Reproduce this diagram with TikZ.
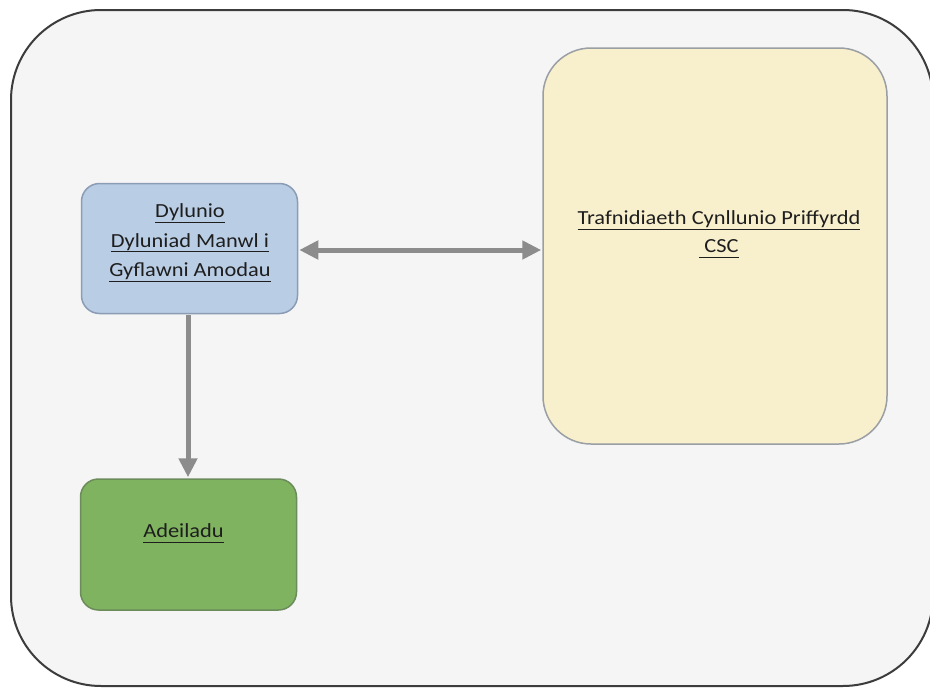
\documentclass[tikz,border=0pt]{standalone}
\usepackage{fontspec}
\setmainfont{Carlito}
\newfontfamily\boxfont[FakeStretch=1.12]{Carlito}
\usetikzlibrary{arrows.meta}

\definecolor{pagebg}{HTML}{FFFFFF}
\definecolor{framefill}{HTML}{F5F5F5}
\definecolor{frameline}{HTML}{3C3C3C}
\definecolor{bluefill}{HTML}{B9CDE5}
\definecolor{blueline}{HTML}{8A9DB5}
\definecolor{yellowfill}{HTML}{F8EFCD}
\definecolor{yellowline}{HTML}{9A9FA5}
\definecolor{greenfill}{HTML}{7FB35F}
\definecolor{greenline}{HTML}{6C8C5C}
\definecolor{arrowgray}{HTML}{8C8C8C}
\definecolor{inkdark}{HTML}{1E1E1E}

% underline at a fixed depth below the baseline
\newsavebox\ulinebox
\newcommand\lineunder[1]{\sbox\ulinebox{#1}\rlap{\rule[-5pt]{\wd\ulinebox}{1.2pt}}\usebox\ulinebox}

\tikzset{
  outerframe/.style={draw=frameline, line width=2pt, fill=framefill, rounded corners=90pt},
  stagebox/.style={draw, line width=1.5pt, inner sep=0pt},
  designbox/.style={stagebox, fill=bluefill, draw=blueline, rounded corners=18pt,
    minimum width=216pt, minimum height=130pt},
  buildbox/.style={stagebox, fill=greenfill, draw=greenline, rounded corners=18pt,
    minimum width=216pt, minimum height=131pt},
  planbox/.style={stagebox, fill=yellowfill, draw=yellowline, rounded corners=48pt,
    minimum width=344pt, minimum height=396pt},
  boxtext/.style={align=center, text=inkdark, inner sep=0pt,
    font=\boxfont\fontsize{20}{29.5}\selectfont},
  flow/.style={draw=arrowgray, line width=5pt, shorten <=1pt, shorten >=1pt,
    arrows={-Triangle[length=19pt, width=18pt]}},
  twoway/.style={flow, arrows={Triangle[length=19pt, width=18pt]-Triangle[length=19pt, width=18pt]}},
}

\begin{document}
\begin{tikzpicture}[x=1pt, y=-1pt]
  \useasboundingbox (0,0) rectangle (930,688);
  \fill[pagebg] (0,0) rectangle (930,688);

  % surrounding panel, its right side runs just past the page edge
  \draw[outerframe] (11,10) rectangle (933,686);

  % stage boxes
  \node[designbox] (design) at (189.5,248.5) {};
  \node[planbox] (plan) at (715,246) {};
  \node[buildbox] (build) at (188.5,544.5) {};

  % box captions
  \node[boxtext] (designtxt) at (190,243)
    {\lineunder{Dylunio}\\\lineunder{Dyluniad Manwl i}\\\lineunder{Gyflawni Amodau}};
  \node[boxtext, font=\boxfont\fontsize{20}{28}\selectfont] (plantxt) at (719,234.5)
    {\lineunder{Trafnidiaeth Cynllunio Priffyrdd}\\\lineunder{ CSC}};
  \node[boxtext] (buildtxt) at (183.5,533.5) {\lineunder{Adeiladu}};

  % connectors
  \draw[twoway] (design.east |- 0,250) -- (plan.west |- 0,250);
  \draw[flow] (design.south -| 188,0) -- (build.north -| 188,0);
\end{tikzpicture}
\end{document}
